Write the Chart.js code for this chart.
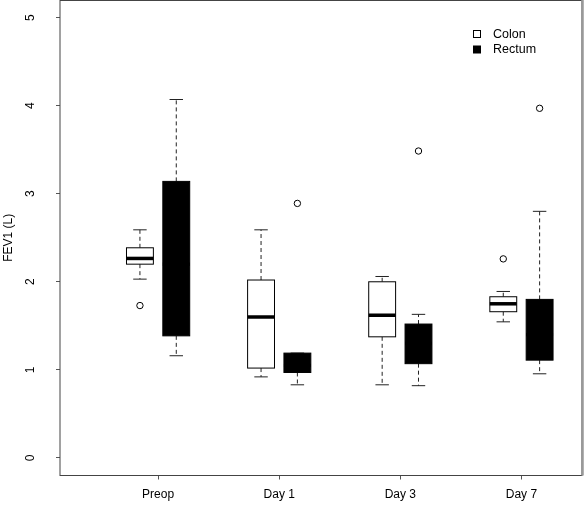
<!DOCTYPE html>
<html lang="en">
<head>
    <meta charset="UTF-8">
    <title>FEV1 boxplot - Colon vs Rectum</title>
    <script src="https://cdn.jsdelivr.net/npm/chart.js"></script>
    <style>
        html, body { margin: 0; padding: 0; background: #ffffff; }
        .chart-container { position: relative; width: 584px; height: 507px; }
    </style>
</head>
<body>
    <div class="chart-container">
        <canvas id="fevChart"></canvas>
    </div>

    <script>
        // Groups on the x axis
        const categories = ['Preop', 'Day 1', 'Day 3', 'Day 7'];
        const yTicks = [0, 1, 2, 3, 4, 5];

        // Colon (white boxes)
        const colonMin    = [2.03, 0.92, 0.83, 1.545];
        const colonQ1     = [2.20, 1.02, 1.375, 1.66];
        const colonMedian = [2.265, 1.60, 1.62, 1.75];
        const colonQ3     = [2.386, 2.02, 2.00, 1.83];
        const colonMax    = [2.59, 2.59, 2.06, 1.89];
        const colonOutliers = [[1.73], [], [], [2.26]];

        // Rectum (black boxes, median hidden in the fill)
        const rectumMin    = [1.16, 0.83, 0.82, 0.955];
        const rectumQ1     = [1.386, 0.97, 1.07, 1.11];
        const rectumMedian = [2.2, 1.05, 1.30, 1.40];
        const rectumQ3     = [3.14, 1.19, 1.52, 1.80];
        const rectumMax    = [4.07, 1.19, 1.63, 2.80];
        const rectumOutliers = [[], [2.89], [3.485], [3.97]];

        // where each series sits inside a group, in x units
        const seriesOffset = { colon: -0.15, rectum: 0.15 };
        const boxWidth = 0.222;

        const FONT = "'Liberation Sans', Arial, sans-serif";

        function outlierPoints(list, off) {
            const pts = [];
            list.forEach((vals, i) => vals.forEach(v => pts.push({ x: i + off, y: v })));
            return pts;
        }

        const series = [
            { key: 'colon', fill: '#ffffff', min: colonMin, q1: colonQ1, med: colonMedian, q3: colonQ3, max: colonMax },
            { key: 'rectum', fill: '#000000', min: rectumMin, q1: rectumQ1, med: rectumMedian, q3: rectumQ3, max: rectumMax }
        ];

        // draws boxes, whiskers and medians with the chart scales
        const boxPlugin = {
            id: 'boxes',
            beforeDatasetsDraw(chart) {
                const ctx = chart.ctx;
                const xs = chart.scales.x, ys = chart.scales.y;
                ctx.save();
                series.forEach(s => {
                    categories.forEach((c, i) => {
                        const cx = i + seriesOffset[s.key];
                        const xl = xs.getPixelForValue(cx - boxWidth / 2);
                        const xr = xs.getPixelForValue(cx + boxWidth / 2);
                        const xm = xs.getPixelForValue(cx);
                        const capL = xs.getPixelForValue(cx - boxWidth / 4);
                        const capR = xs.getPixelForValue(cx + boxWidth / 4);
                        const yMin = ys.getPixelForValue(s.min[i]);
                        const yQ1 = ys.getPixelForValue(s.q1[i]);
                        const yMed = ys.getPixelForValue(s.med[i]);
                        const yQ3 = ys.getPixelForValue(s.q3[i]);
                        const yMax = ys.getPixelForValue(s.max[i]);

                        // dashed whiskers
                        ctx.strokeStyle = '#222';
                        ctx.lineWidth = 1;
                        ctx.setLineDash([4, 3]);
                        ctx.beginPath();
                        ctx.moveTo(xm, yQ3); ctx.lineTo(xm, yMax);
                        ctx.moveTo(xm, yQ1); ctx.lineTo(xm, yMin);
                        ctx.stroke();
                        ctx.setLineDash([]);
                        // staples
                        ctx.beginPath();
                        ctx.moveTo(capL, yMax); ctx.lineTo(capR, yMax);
                        ctx.moveTo(capL, yMin); ctx.lineTo(capR, yMin);
                        ctx.stroke();

                        // box
                        ctx.fillStyle = s.fill;
                        ctx.fillRect(xl, yQ3, xr - xl, yQ1 - yQ3);
                        ctx.strokeStyle = '#000';
                        ctx.strokeRect(xl, yQ3, xr - xl, yQ1 - yQ3);

                        // median
                        ctx.lineWidth = 3.5;
                        ctx.beginPath();
                        ctx.moveTo(xl, yMed); ctx.lineTo(xr, yMed);
                        ctx.stroke();
                    });
                });
                ctx.restore();
            },
            afterDraw(chart) {
                const ctx = chart.ctx;
                const a = chart.chartArea;
                const ys = chart.scales.y;
                ctx.save();

                // frame around the plot
                ctx.strokeStyle = '#444';
                ctx.lineWidth = 1;
                ctx.strokeRect(a.left, a.top + 0.5, a.right - a.left, a.bottom - a.top - 0.5);
                ctx.strokeStyle = '#999';
                ctx.lineWidth = 2.5;
                ctx.beginPath();
                ctx.moveTo(a.right + 0.5, 0); ctx.lineTo(a.right + 0.5, a.bottom);
                ctx.stroke();

                // rotated y tick labels, R style
                ctx.fillStyle = '#000';
                ctx.font = '12px ' + FONT;
                ctx.textAlign = 'center';
                ctx.textBaseline = 'middle';
                yTicks.forEach(v => {
                    ctx.save();
                    ctx.translate(31, ys.getPixelForValue(v));
                    ctx.rotate(-Math.PI / 2);
                    ctx.fillText(String(v), 0, 0);
                    ctx.restore();
                });

                // axis title
                ctx.save();
                ctx.translate(9, (a.top + a.bottom) / 2);
                ctx.rotate(-Math.PI / 2);
                ctx.fillText('FEV1 (L)', 0, 0);
                ctx.restore();

                // legend
                ctx.lineWidth = 1;
                ctx.strokeStyle = '#000';
                ctx.fillStyle = '#fff';
                ctx.fillRect(473, 30.5, 7, 7);
                ctx.strokeRect(473.5, 30.5, 7, 7);
                ctx.fillStyle = '#000';
                ctx.fillRect(473, 45.5, 8, 8);
                ctx.textAlign = 'left';
                ctx.font = '12.5px ' + FONT;
                ctx.fillText('Colon', 493, 34.5);
                ctx.fillText('Rectum', 493, 49.5);
                ctx.restore();
            }
        };

        new Chart(document.getElementById('fevChart'), {
            type: 'scatter',
            data: {
                datasets: [
                    {
                        label: 'Colon',
                        data: outlierPoints(colonOutliers, seriesOffset.colon),
                        pointStyle: 'circle',
                        pointRadius: 3.2,
                        pointBackgroundColor: '#fff',
                        pointBorderColor: '#000',
                        pointBorderWidth: 1
                    },
                    {
                        label: 'Rectum',
                        data: outlierPoints(rectumOutliers, seriesOffset.rectum),
                        pointStyle: 'circle',
                        pointRadius: 3.2,
                        pointBackgroundColor: '#fff',
                        pointBorderColor: '#000',
                        pointBorderWidth: 1
                    }
                ]
            },
            options: {
                responsive: true,
                maintainAspectRatio: false,
                animation: false,
                layout: { autoPadding: false, padding: { top: 0, right: 2, left: 0, bottom: 0 } },
                plugins: {
                    legend: { display: false },
                    tooltip: { enabled: false }
                },
                scales: {
                    x: {
                        type: 'linear',
                        min: -0.81,
                        max: 3.5,
                        afterBuildTicks: s => { s.ticks = categories.map((c, i) => ({ value: i })); },
                        afterFit: s => { s.height = 31.5; },
                        border: { display: false },
                        grid: { drawOnChartArea: false, drawTicks: true, tickLength: 4, tickColor: '#555' },
                        ticks: {
                            autoSkip: false,
                            maxRotation: 0,
                            padding: 8,
                            color: '#000',
                            font: { family: FONT, size: 12 },
                            callback: v => categories[v]
                        }
                    },
                    y: {
                        min: -0.2,
                        max: 5.2,
                        afterBuildTicks: s => { s.ticks = yTicks.map(v => ({ value: v })); },
                        afterFit: s => { s.width = 60; },
                        border: { display: false },
                        grid: { drawOnChartArea: false, drawTicks: true, tickLength: 4, tickColor: '#555' },
                        ticks: { display: false }
                    }
                }
            },
            plugins: [boxPlugin]
        });
    </script>
</body>
</html>
